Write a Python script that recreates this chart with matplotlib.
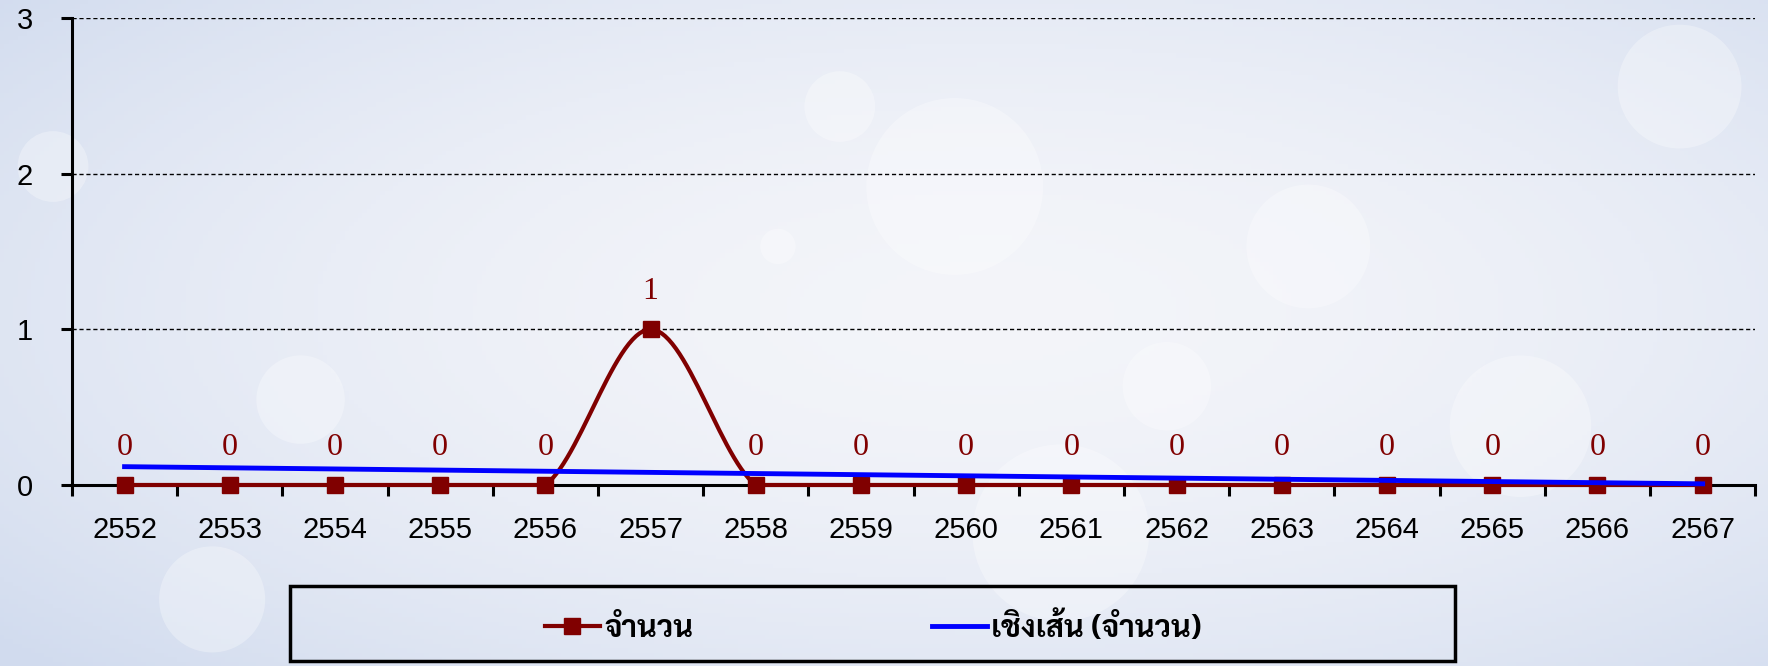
import numpy as np
import matplotlib
matplotlib.use("Agg")
import matplotlib.pyplot as plt
from matplotlib.patches import Rectangle, Ellipse
from matplotlib.lines import Line2D

# data
years = ['2552', '2553', '2554', '2555', '2556', '2557', '2558', '2559',
         '2560', '2561', '2562', '2563', '2564', '2565', '2566', '2567']
counts = [0, 0, 0, 0, 0, 1, 0, 0, 0, 0, 0, 0, 0, 0, 0, 0]
series_name = 'จำนวน'
trend_name = 'เชิงเส้น (จำนวน)'
y_ticks = [0, 1, 2, 3]

thai_font = ['Sarabun', 'Noto Sans Thai Looped', 'Noto Sans Thai', 'DejaVu Sans']
num_font = ['Liberation Sans', 'DejaVu Sans']
dark_red = '#800000'
blue = '#0000ff'


def catmull_rom(x, y, n=30):
    # excel-like smoothed line
    x = np.asarray(x, float)
    y = np.asarray(y, float)
    xs, ys = [], []
    for i in range(len(x) - 1):
        m0 = (y[i + 1] - y[i - 1]) / 2 if i > 0 else (y[i + 1] - y[i])
        m1 = (y[i + 2] - y[i]) / 2 if i + 2 < len(y) else (y[i + 1] - y[i])
        t = np.linspace(0, 1, n)
        h00 = 2 * t**3 - 3 * t**2 + 1
        h10 = t**3 - 2 * t**2 + t
        h01 = -2 * t**3 + 3 * t**2
        h11 = t**3 - t**2
        xs.append(x[i] + t * (x[i + 1] - x[i]))
        ys.append(h00 * y[i] + h10 * m0 + h01 * y[i + 1] + h11 * m1)
    return np.concatenate(xs), np.maximum(np.concatenate(ys), 0)


fig = plt.figure(figsize=(17.68, 6.66), dpi=100)

# background (soft bokeh-like gradient)
bg = fig.add_axes([0, 0, 1, 1], zorder=-10)
gx, gy = np.meshgrid(np.linspace(-1, 1, 400), np.linspace(-1, 1, 150))
r = np.sqrt((gx * 0.85 - 0.1) ** 2 + (gy * 0.8 - 0.05) ** 2)
light = np.array([0.955, 0.96, 0.978])
edge = np.array([0.82, 0.86, 0.935])
w = np.clip(r / 1.25, 0, 1)[..., None] ** 1.8
img = light * (1 - w) + edge * w
bg.imshow(img, extent=[0, 1, 0, 1], aspect='auto', origin='lower')
asp = 17.68 / 6.66
for cx, cy, rr in [(0.54, 0.72, 0.05), (0.475, 0.84, 0.02), (0.74, 0.63, 0.035),
                   (0.95, 0.87, 0.035), (0.66, 0.42, 0.025), (0.17, 0.40, 0.025),
                   (0.03, 0.75, 0.02), (0.86, 0.36, 0.04), (0.44, 0.63, 0.01),
                   (0.60, 0.20, 0.05), (0.12, 0.10, 0.03)]:
    bg.add_patch(Ellipse((cx, cy), 2 * rr, 2 * rr * asp, transform=bg.transAxes,
                         color='white', alpha=0.3, lw=0))
bg.set_xlim(0, 1)
bg.set_ylim(0, 1)
bg.axis('off')

ax = fig.add_axes([0.0407, 0.2718, 0.9521, 0.7012])
ax.patch.set_alpha(0)

x = np.arange(len(years))
sx, sy = catmull_rom(x, counts)
ax.plot(sx, sy, color=dark_red, lw=3.0, zorder=3, clip_on=False)
ax.plot(x, counts, ls='none', marker='s', ms=11, color=dark_red, zorder=4, clip_on=False)

# linear trend line
k, b = np.polyfit(x, counts, 1)
ax.plot(x, k * x + b, color=blue, lw=3.5, zorder=5, clip_on=False)

for xi, v in zip(x, counts):
    ax.annotate(str(v), (xi, v), xytext=(0, 27), textcoords='offset points',
                ha='center', va='center', color=dark_red, fontsize=23,
                family=['Liberation Serif', 'DejaVu Serif'])

ax.set_xlim(-0.5, len(years) - 0.5)
ax.set_ylim(0, 3)
ax.set_yticks(y_ticks)
ax.set_yticklabels([str(t) for t in y_ticks], family=num_font, fontsize=21)
ax.set_xticks(x)
ax.set_xticklabels(years, family=num_font, fontsize=21)
ax.set_xticks(np.arange(-0.5, len(years)), minor=True)
ax.tick_params(axis='x', which='major', length=0, pad=22)
ax.tick_params(axis='x', which='minor', length=8, width=2.2, direction='out')
ax.tick_params(axis='y', length=8, width=2.2, pad=20)
for t in y_ticks[1:]:
    ax.axhline(t, color='black', lw=1, ls=(0, (3, 2)), zorder=1)
for s in ['top', 'right']:
    ax.spines[s].set_visible(False)
for s in ['left', 'bottom']:
    ax.spines[s].set_linewidth(2.2)

# legend box
fig.patches.append(Rectangle((0.164, 0.0075), 0.659, 0.1125, transform=fig.transFigure,
                             fill=False, ec='black', lw=2.5))
handles = [Line2D([], [], color=dark_red, lw=3.0, marker='s', ms=11),
           Line2D([], [], color=blue, lw=3.5)]
fig.legend(handles, [series_name, trend_name], loc='center',
           bbox_to_anchor=(0.494, 0.057), ncol=2, frameon=False,
           prop={'family': thai_font, 'size': 22, 'weight': 'bold'},
           handlelength=1.8, handletextpad=0.15, columnspacing=7.8)

fig.savefig('out.png', dpi=100)
